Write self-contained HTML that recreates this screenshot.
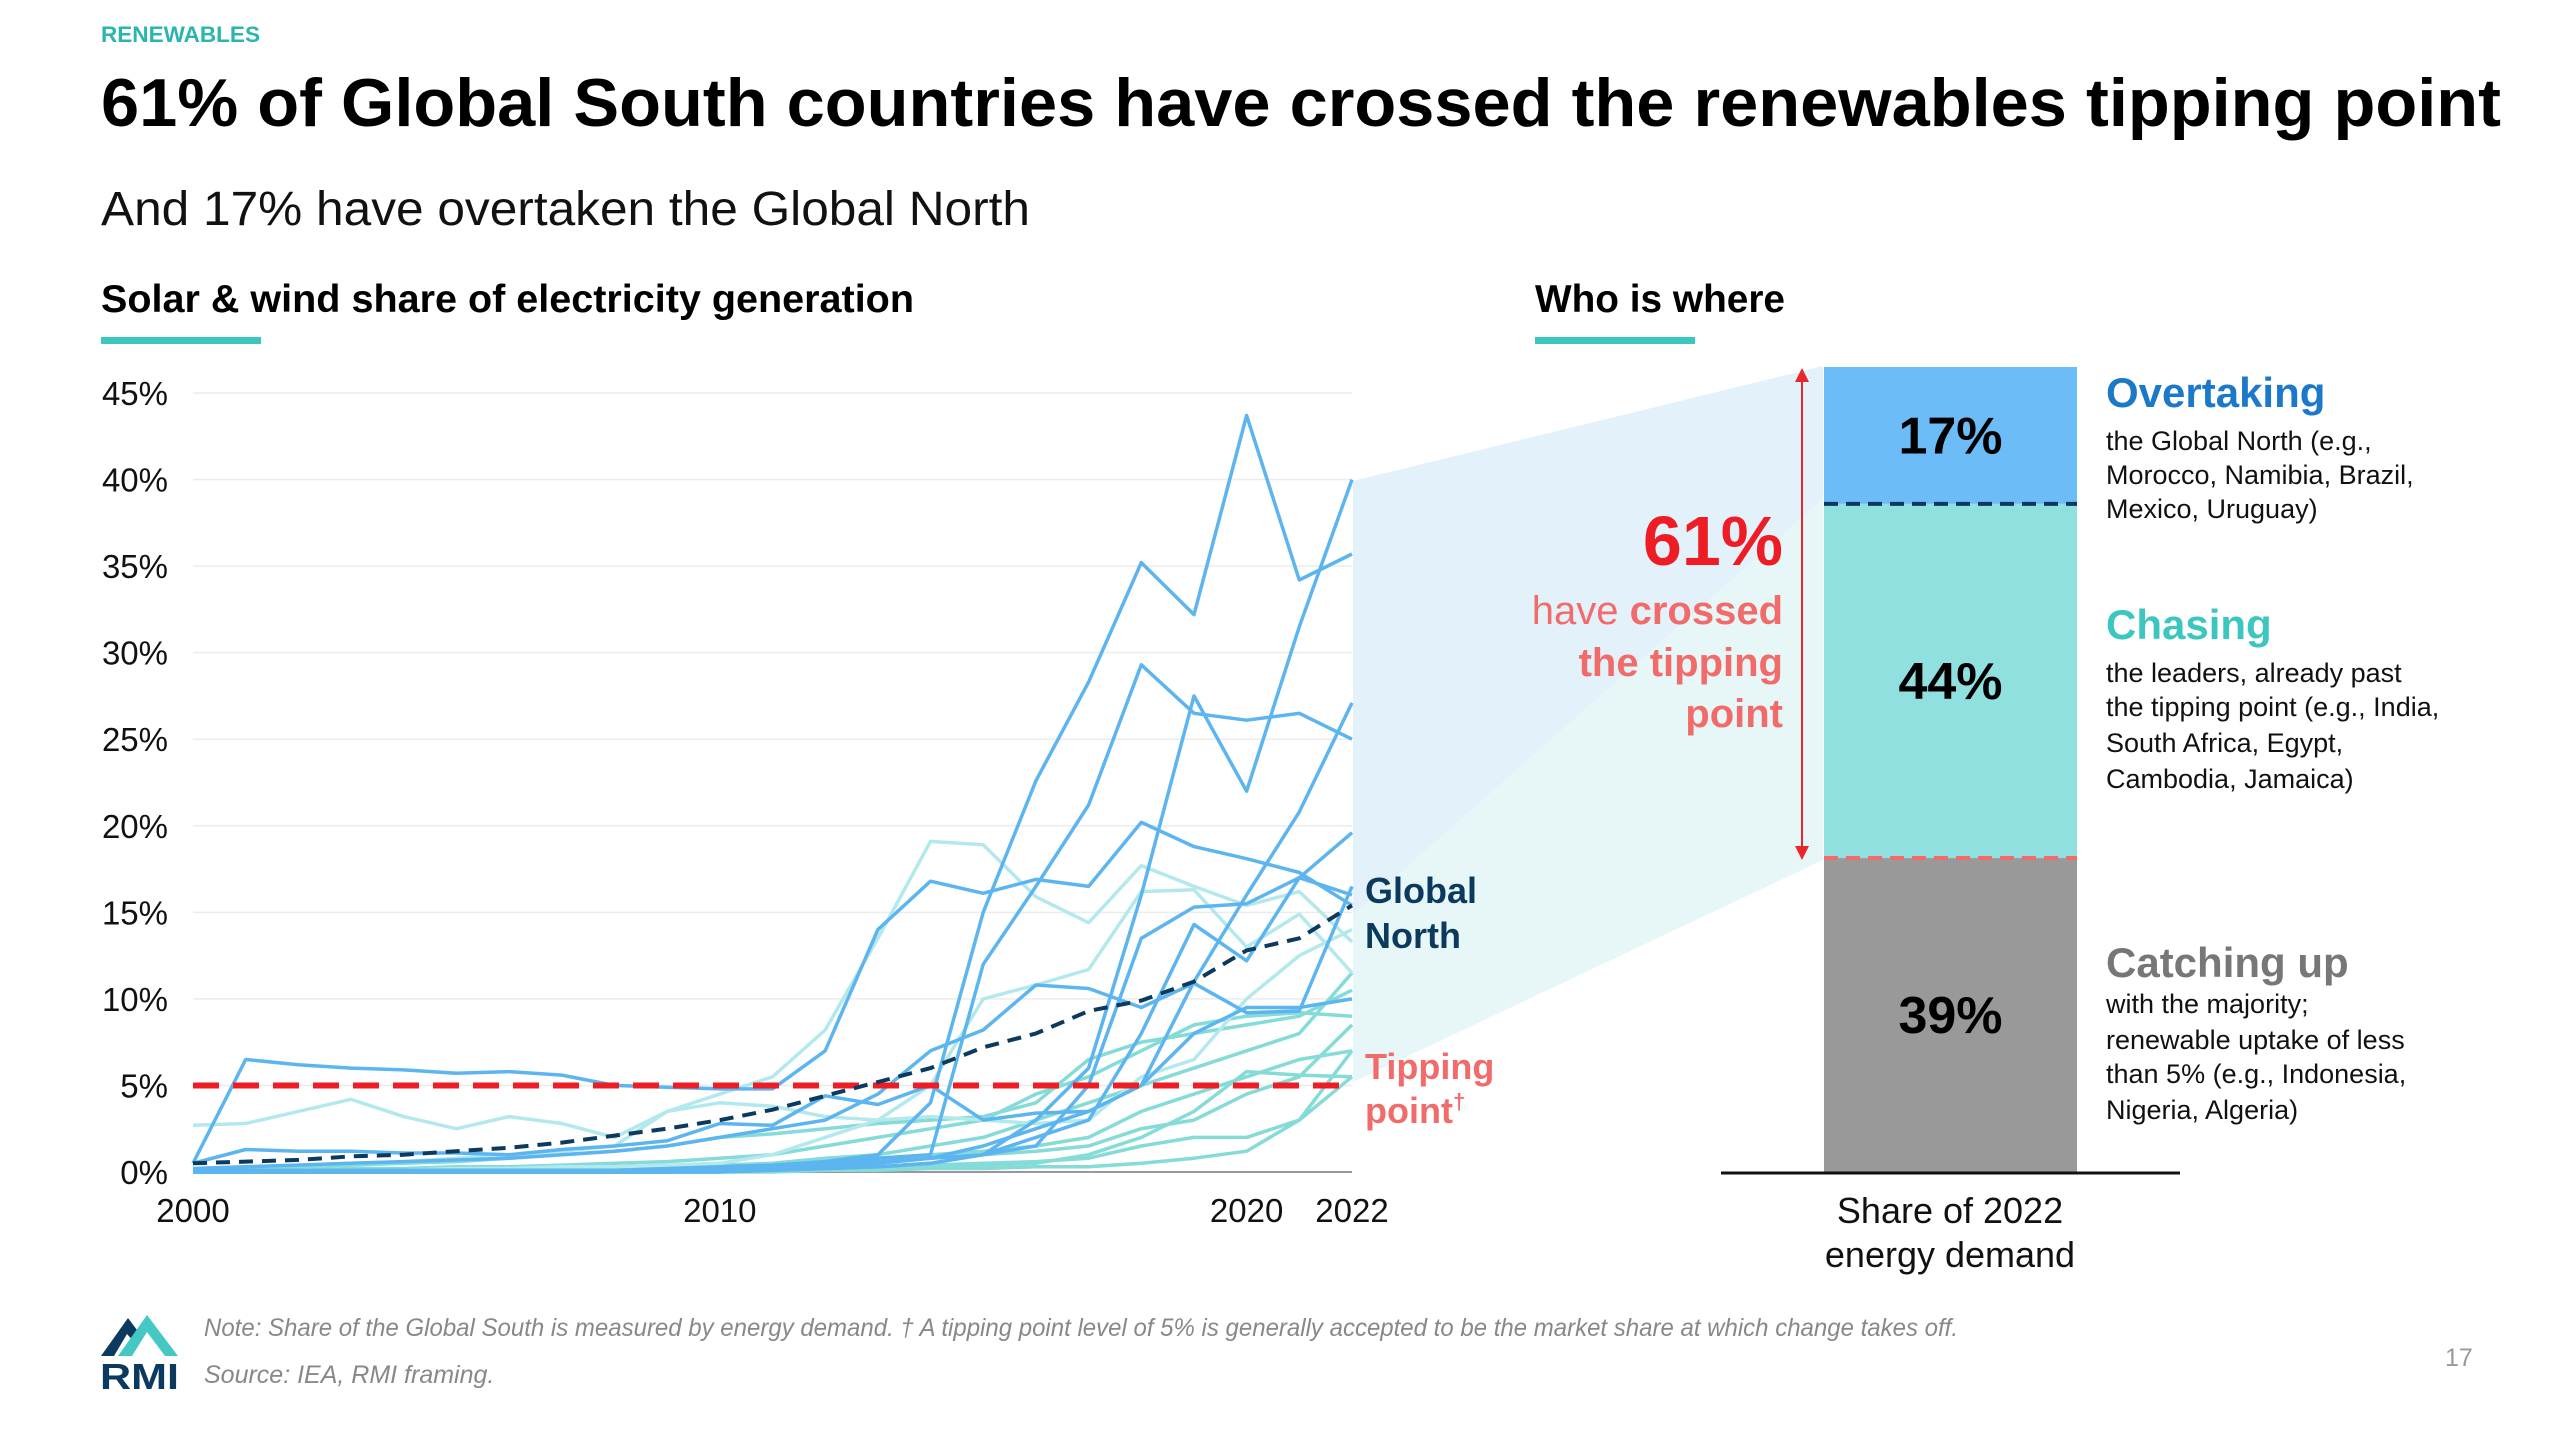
<!DOCTYPE html>
<html><head><meta charset="utf-8"><style>
html,body{margin:0;padding:0;background:#fff;}
svg{display:block;font-family:"Liberation Sans",sans-serif;}
</style></head><body>
<svg id="page" width="2560" height="1440" viewBox="0 0 2560 1440">
<text x="101" y="42" font-size="22" font-weight="bold" fill="#2bb5b0" textLength="159" lengthAdjust="spacingAndGlyphs">RENEWABLES</text>
<text x="101" y="126" font-size="68" font-weight="bold" fill="#000" textLength="2400" lengthAdjust="spacingAndGlyphs">61% of Global South countries have crossed the renewables tipping point</text>
<text x="101" y="225" font-size="48" fill="#111" textLength="929" lengthAdjust="spacingAndGlyphs">And 17% have overtaken the Global North</text>
<text x="101" y="312" font-size="39" font-weight="bold" fill="#000" textLength="813" lengthAdjust="spacingAndGlyphs">Solar &amp; wind share of electricity generation</text>
<rect x="101" y="337" width="160" height="7" fill="#3cc6c0"/>
<text x="1535" y="312" font-size="39" font-weight="bold" fill="#000" textLength="250" lengthAdjust="spacingAndGlyphs">Who is where</text>
<rect x="1535" y="337" width="160" height="7" fill="#3cc6c0"/>

<polygon points="1353,481 1823,366 1823,499 1353,915" fill="#e3f1fb"/>
<polygon points="1353,915 1823,499 1823,860 1353,1082" fill="#e7f7f7"/>

<g id="chart"></g>

<text x="1365" y="903" font-size="36" font-weight="bold" fill="#0b3a5e">Global</text>
<text x="1365" y="948" font-size="36" font-weight="bold" fill="#0b3a5e">North</text>
<text x="1365" y="1079" font-size="36" font-weight="bold" fill="#f26b6b">Tipping</text>
<text x="1365" y="1123" font-size="36" font-weight="bold" fill="#f26b6b">point<tspan font-size="22" dy="-14">†</tspan></text>

<line x1="1802" y1="380" x2="1802" y2="848" stroke="#e8262c" stroke-width="2"/>
<polygon points="1802,368 1795,382 1809,382" fill="#e8262c"/>
<polygon points="1802,860 1795,846 1809,846" fill="#e8262c"/>
<text x="1783" y="565" font-size="70" font-weight="bold" fill="#ee1c25" text-anchor="end">61%</text>
<text x="1783" y="624" font-size="40" fill="#f26b6b" text-anchor="end">have <tspan font-weight="bold">crossed</tspan></text>
<text x="1783" y="676" font-size="40" font-weight="bold" fill="#f26b6b" text-anchor="end">the tipping</text>
<text x="1783" y="727" font-size="40" font-weight="bold" fill="#f26b6b" text-anchor="end">point</text>

<g id="bar"></g>
<line x1="1721" y1="1173" x2="2180" y2="1173" stroke="#111" stroke-width="3"/>
<text x="1950" y="1223" font-size="36" fill="#111" text-anchor="middle">Share of 2022</text>
<text x="1950" y="1267" font-size="36" fill="#111" text-anchor="middle">energy demand</text>

<g font-size="27" fill="#111">
<text x="2106" y="407" font-size="42" font-weight="bold" fill="#1c78c9">Overtaking</text>
<text x="2106" y="450">the Global North (e.g.,</text>
<text x="2106" y="484">Morocco, Namibia, Brazil,</text>
<text x="2106" y="518">Mexico, Uruguay)</text>
</g>
<g font-size="27" fill="#111">
<text x="2106" y="639" font-size="42" font-weight="bold" fill="#3cc6c0">Chasing</text>
<text x="2106" y="682">the leaders, already past</text>
<text x="2106" y="716">the tipping point (e.g., India,</text>
<text x="2106" y="752">South Africa, Egypt,</text>
<text x="2106" y="788">Cambodia, Jamaica)</text>
</g>
<g font-size="27" fill="#111">
<text x="2106" y="977" font-size="42" font-weight="bold" fill="#777">Catching up</text>
<text x="2106" y="1013">with the majority;</text>
<text x="2106" y="1049">renewable uptake of less</text>
<text x="2106" y="1083">than 5% (e.g., Indonesia,</text>
<text x="2106" y="1119">Nigeria, Algeria)</text>
</g>

<g>
<polygon points="101,1356 128,1318 140,1334 134,1342 127,1334 114,1356" fill="#0b3a5e"/>
<polygon points="118,1356 147,1315 178,1356 165,1356 147,1332 132,1356" fill="#45c8c4"/>
<text x="100" y="1389" font-size="36" font-weight="bold" fill="#0b3a5e" textLength="79" lengthAdjust="spacingAndGlyphs">RMI</text>
</g>
<text x="204" y="1336" font-size="25" font-style="italic" fill="#888" textLength="1754" lengthAdjust="spacingAndGlyphs">Note: Share of the Global South is measured by energy demand. † A tipping point level of 5% is generally accepted to be the market share at which change takes off.</text>
<text x="204" y="1383" font-size="25" font-style="italic" fill="#888">Source: IEA, RMI framing.</text>
<text x="2445" y="1366" font-size="25" fill="#999">17</text>
</svg>
<script>
const years = [2000,2001,2002,2003,2004,2005,2006,2007,2008,2009,2010,2011,2012,2013,2014,2015,2016,2017,2018,2019,2020,2021,2022];
const yTicks = [0,5,10,15,20,25,30,35,40,45];
const xTicks = [2000,2010,2020,2022];
const tippingPoint = 5;
const globalNorth = [0.5,0.6,0.7,0.9,1.0,1.2,1.4,1.7,2.1,2.5,3.0,3.6,4.4,5.2,6.0,7.2,8.0,9.3,9.9,11.0,12.8,13.5,15.4];
const blue1 = [0.5,6.5,6.2,6.0,5.9,5.7,5.8,5.6,5.0,4.9,4.8,4.8,7.0,14.0,16.8,16.1,16.9,16.5,20.2,18.8,18.1,17.3,15.4];
const blue2 = [0.1,0.1,0.1,0.1,0.1,0.1,0.1,0.1,0.1,0.2,0.3,0.4,0.6,1.0,4.0,15.0,22.6,28.3,35.2,32.2,43.7,34.2,35.7];
const blue3 = [0.1,0.1,0.1,0.1,0.1,0.1,0.1,0.1,0.1,0.1,0.2,0.3,0.5,0.8,1.0,12.0,16.5,21.2,29.3,26.5,26.1,26.5,25.0];
const blue4 = [0,0,0,0,0,0,0,0,0,0,0,0.1,0.2,0.3,0.5,1.0,3.0,6.0,16.0,27.5,22.0,31.5,40.0];
const blue5 = [0,0,0,0,0,0,0,0,0,0,0.1,0.2,0.3,0.5,0.8,1.5,2.5,3.5,5.0,11.0,16.0,20.8,27.1];
const blue6 = [0,0,0,0,0,0,0,0,0,0,0.1,0.2,0.4,0.6,0.8,1.0,1.5,5.0,13.5,15.3,15.5,17.0,19.6];
const blue7 = [0,0,0,0,0,0,0,0,0,0,0.1,0.1,0.2,0.3,0.5,1.0,2.0,3.0,8.0,14.3,12.2,17.0,16.0];
const blue8 = [0.2,0.3,0.4,0.5,0.6,0.7,0.8,1.0,1.2,1.5,2.0,2.5,3.0,4.5,7.0,8.2,10.8,10.6,9.5,10.9,9.2,9.3,16.5];
const blue9 = [0.5,1.3,1.2,1.2,1.1,1.1,1.0,1.3,1.5,1.8,2.8,2.7,4.4,3.9,5.0,3.0,3.4,3.5,5.0,8.0,9.5,9.5,10.0];
const cyan1 = [2.7,2.8,3.5,4.2,3.2,2.5,3.2,2.8,2.0,3.5,4.5,5.5,8.2,13.5,19.1,18.9,15.9,14.4,17.7,16.5,15.4,16.2,13.3];
const cyan2 = [0.1,0.1,0.1,0.1,0.1,0.2,0.2,0.3,0.3,0.4,0.5,1.0,2.0,3.0,5.0,10.0,10.8,11.7,16.2,16.3,13.0,14.9,11.5];
const cyan3 = [0.2,0.3,0.4,0.5,0.6,0.8,1.0,1.2,1.5,3.5,4.0,3.8,3.2,3.0,3.2,3.0,2.8,3.0,5.5,6.5,10.0,12.5,14.0];
const teal1 = [0.1,0.2,0.3,0.4,0.5,0.6,0.8,1.0,1.2,1.5,2.0,2.2,2.5,2.8,3.0,3.2,4.0,6.5,7.5,8.0,8.5,9.0,10.5];
const teal2 = [0.1,0.1,0.1,0.2,0.2,0.3,0.3,0.4,0.5,0.6,0.8,1.0,1.5,2.0,2.5,3.0,4.5,5.5,7.0,8.5,9.0,9.2,9.0];
const teal3 = [0,0,0,0,0.1,0.1,0.1,0.2,0.2,0.3,0.4,0.5,0.8,1.0,1.5,2.0,3.0,4.0,5.0,6.0,7.0,8.0,11.5];
const teal4 = [0,0,0,0,0,0,0.1,0.1,0.1,0.2,0.2,0.3,0.5,0.8,1.0,1.2,1.5,2.0,3.5,4.5,5.5,6.5,7.0];
const teal5 = [0,0,0,0,0,0,0,0,0.1,0.1,0.1,0.2,0.3,0.5,0.8,1.0,1.2,1.5,2.5,3.0,4.5,5.5,8.5];
const teal6 = [0,0,0,0,0,0,0,0,0,0,0.1,0.1,0.2,0.3,0.4,0.5,0.6,0.8,1.5,2.0,2.0,3.0,5.5];
const teal7 = [0,0,0,0,0,0,0,0,0,0,0,0.1,0.1,0.2,0.3,0.4,0.5,1.0,2.0,3.5,5.8,5.6,5.5];
const teal8 = [0,0,0,0,0,0,0,0,0,0,0,0,0.1,0.1,0.2,0.2,0.3,0.3,0.5,0.8,1.2,3.0,7.0];
const cyanSeries = [cyan1,cyan2,cyan3];
const tealSeries = [teal1,teal2,teal3,teal4,teal5,teal6,teal7,teal8];
const blueSeries = [blue1,blue2,blue3,blue4,blue5,blue6,blue7,blue8,blue9];
const barCategories = ["Catching up","Chasing","Overtaking"];
const barValues = [39,44,17];
const barLabels = ["39%","44%","17%"];

const NS = "http://www.w3.org/2000/svg";
const x0 = 193, x1 = 1352, yBase = 1172, yTop = 393;
function xScale(yr){ return x0 + (yr-2000)*(x1-x0)/22; }
function yScale(v){ return yBase - v*(yBase-yTop)/45; }
const chart = document.getElementById('chart');
function mk(tag, attrs, parent){ const e = document.createElementNS(NS, tag); for (const k in attrs) e.setAttribute(k, attrs[k]); parent.appendChild(e); return e; }

yTicks.forEach(t => {
  const g = mk('line', {x1:x0, x2:x1, y1:yScale(t), y2:yScale(t), stroke: t===0 ? '#999' : '#ececec', 'stroke-width': t===0?2:1.5}, chart);
  
  
  const tx = mk('text', {x:168, y:yScale(t)+12, 'font-size':33, fill:'#111', 'text-anchor':'end'}, chart);
  tx.textContent = t + '%';
  
  
});
xTicks.forEach(t => {
  const tx = mk('text', {x:xScale(t), y:1222, 'font-size':33, fill:'#111', 'text-anchor':'middle'}, chart);
  tx.textContent = t;
  
  
});
function pts(s){ return s.map((v,i)=> xScale(years[i]).toFixed(1)+','+yScale(v).toFixed(1)).join(' '); }
function drawSeries(arr, color, name){
  arr.forEach(s => {
    const p = mk('polyline', {points:pts(s), fill:'none', stroke:color, 'stroke-width':3.5, 'stroke-linejoin':'round'}, chart);
    
    
  });
}
drawSeries(tealSeries, '#84dbd7', 'country-line-teal');
drawSeries(cyanSeries, '#b3e9ec', 'country-line-cyan');
drawSeries(blueSeries, '#5db5f0', 'country-line-blue');
const tp = mk('line', {x1:x0, x2:x1, y1:yScale(tippingPoint), y2:yScale(tippingPoint), stroke:'#ee1c25', 'stroke-width':6, 'stroke-dasharray':'26 14'}, chart);


const gn = mk('polyline', {points:pts(globalNorth), fill:'none', stroke:'#0b3a5e', 'stroke-width':4, 'stroke-dasharray':'14 9'}, chart);



// stacked bar
const bar = document.getElementById('bar');
const bx = 1824, bw = 253, bTop = 367, bBot = 1172;
const barColors = ['#999999','#91e0e0','#6cbcf8'];
const total = barValues.reduce((a,b)=>a+b,0);
let cum = 0;
function bScale(v){ return bBot - v*(bBot-bTop)/total; }
barValues.forEach((v,i) => {
  const yA = bScale(cum), yB = bScale(cum+v);
  const r = mk('rect', {x:bx, y:yB, width:bw, height:yA-yB, fill:barColors[i]}, bar);
  
  
  const t = mk('text', {x:bx+bw/2, y:(yA+yB)/2+18, 'font-size':52, 'font-weight':'bold', fill:'#000', 'text-anchor':'middle'}, bar);
  t.textContent = barLabels[i];
  
  
  cum += v;
});
const d1 = mk('line', {x1:bx, x2:bx+bw, y1:bScale(barValues[0]), y2:bScale(barValues[0]), stroke:'#f26b6b', 'stroke-width':4, 'stroke-dasharray':'14 8'}, bar);


const d2 = mk('line', {x1:bx, x2:bx+bw, y1:bScale(barValues[0]+barValues[1]), y2:bScale(barValues[0]+barValues[1]), stroke:'#0b3a5e', 'stroke-width':4, 'stroke-dasharray':'14 8'}, bar);


</script>
</body></html>
